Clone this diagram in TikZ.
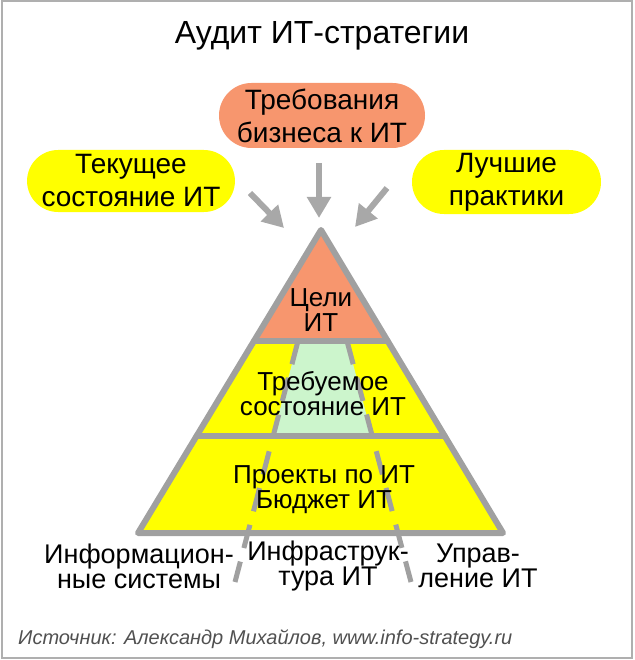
\documentclass[tikz,border=0pt]{standalone}
\usepackage{fontspec}
\setmainfont{Liberation Sans}
\usetikzlibrary{arrows.meta,shapes.misc,calc}
\definecolor{salmon}{RGB}{247,150,110}
\definecolor{lemon}{RGB}{255,255,0}
\definecolor{mint}{RGB}{204,245,204}
\definecolor{edgegray}{RGB}{160,160,160}
\definecolor{arrowgray}{RGB}{168,168,168}
\definecolor{framegray}{RGB}{175,175,175}
\definecolor{srcgray}{RGB}{80,80,80}
\tikzset{
    pill/.style={rounded rectangle, align=center, inner sep=0pt,
    	font=\fontsize{28}{33}\selectfont},
    layertext/.style={align=center, inner sep=0pt,
    	font=\fontsize{26}{25}\selectfont},
    foottext/.style={align=center, inner sep=0pt,
    	font=\fontsize{27}{25}\selectfont},
    feed/.style={draw=arrowgray, line width=6pt,
    	-{Triangle[width=23pt,length=21pt]}}
}
\tikzset{
    rim/.style={draw=edgegray, line width=6pt, line join=round, line cap=round},
    strip/.style={draw=edgegray, line width=5pt, dash pattern=on 24pt off 14pt}
}

\begin{document}
\begin{tikzpicture}[x=1pt, y=-1pt]
  \useasboundingbox (0,0) rectangle (634,660);
  \draw [framegray, line width=2pt] (2,1) rectangle (632,658);

  \node (title) at (322,36) {\fontsize{32}{36}\selectfont Аудит ИТ-стратегии};

  \node (biz) [pill, fill=salmon, minimum width=206pt, minimum height=65pt]
    at (322,115.5) {Требования\\бизнеса к ИТ};
  \node (cur) [pill, fill=lemon, minimum width=188pt, minimum height=62pt]
    at (131,181) {Текущее\\состояние ИТ};
  \node (best) [pill, fill=lemon, minimum width=189pt, minimum height=64pt]
    at (506.5,182) {Лучшие\\практики};

  % pyramid
  \coordinate (apex) at (321,230);
  \coordinate (bl) at (138,533);
  \coordinate (br) at (503,533);
  \coordinate (l1) at ($(apex)!0.366!(bl)$);
  \coordinate (r1) at ($(apex)!0.366!(br)$);
  \coordinate (l2) at ($(apex)!0.680!(bl)$);
  \coordinate (r2) at ($(apex)!0.680!(br)$);

  \fill [salmon] (apex) -- (l1) -- (r1) -- cycle;
  \fill [lemon] (l1) -- (bl) -- (br) -- (r1) -- cycle;
  \fill [mint] (298,341) -- (273,436) -- (372,436) -- (347,341) -- cycle;

  \coordinate (ds) at (298,341);
  \coordinate (de) at (235,582);
  \coordinate (es) at (347,341);
  \coordinate (ee) at (411,582);
  \draw [strip] (ds) -- (de);
  \draw [strip] (es) -- (ee);

  \draw [rim] (apex) -- (bl) -- (br) -- cycle;
  \draw [rim] (l1) -- (r1);
  \draw [rim] (l2) -- (r2);

  \node (goals) [layertext] at (321,310) {Цели\\ИТ};
  \node (target) [layertext] at (323,394) {Требуемое\\состояние ИТ};
  \node (plans) [layertext] at (324,490) {Проекты по ИТ\\Бюджет ИТ};

  \node (is) [foottext] at (139,566) {Информацион-\\ные системы};
  \node (infra) [foottext] at (328,566) {Инфраструк-\\тура ИТ};
  \node (mgmt) [foottext] at (478,566) {Управ-\\ление ИТ};

  % arrows into the apex
  \coordinate (curtail) at (250,193);
  \coordinate (curtip) at (284,228);
  \coordinate (biztail) at (319,163);
  \coordinate (biztip) at (319,218);
  \coordinate (besttail) at (387,188);
  \coordinate (besttip) at (355,227);
  \draw [feed] (curtail) -- (curtip);
  \draw [feed] (biztail) -- (biztip);
  \draw [feed] (besttail) -- (besttip);

  \node (src) [anchor=west, inner sep=0pt, text=srcgray] at (18,639)
    {\fontsize{20}{22}\selectfont\itshape Источник: Александр Михайлов, www.info-strategy.ru};
\end{tikzpicture}
\end{document}
